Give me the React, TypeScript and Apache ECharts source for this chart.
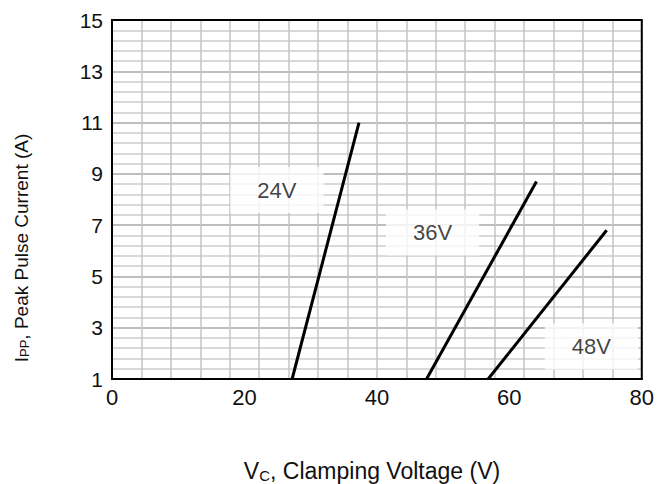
import React, { useEffect, useRef } from "react";
import * as echarts from "echarts";

// Tick labels / axis ranges
const xTicks = [0, 20, 40, 60, 80];
const yTicks = [1, 3, 5, 7, 9, 11, 13, 15];

// Curves: [Vc (V), Ipp (A)]
const line24: [number, number][] = [[27.2, 1], [37.3, 11]];
const line36: [number, number][] = [[47.5, 1], [64.1, 8.7]];
const line48: [number, number][] = [[56.8, 1], [74.7, 6.8]];

// Curve labels: name and anchor in data coordinates
const labelNames = ["24V", "36V", "48V"];
const labelX = [24.9, 48.4, 72.4];
const labelY = [8.37, 6.71, 2.27];

const FONT = "'Liberation Sans', Arial, sans-serif";

export default function App() {
  const ref = useRef<HTMLDivElement>(null);
  useEffect(() => {
    if (!ref.current) return;
    const chart = echarts.init(ref.current, undefined, { renderer: "svg" });
    const lineStyle = { color: "#000", width: 3 };
    chart.setOption({
      animation: false,
      backgroundColor: "#fff",
      grid: {
        left: 112,
        top: 20,
        right: 15,
        bottom: 105,
        show: true,
        borderColor: "#000",
        borderWidth: 2,
        backgroundColor: "transparent",
        z: 10,
      },
      xAxis: [
        {
          type: "value",
          min: xTicks[0],
          max: xTicks[xTicks.length - 1],
          interval: 20,
          axisLine: { show: true, onZero: false, lineStyle: { color: "#000", width: 2 } },
          axisTick: { show: false },
          splitLine: { show: false },
          axisLabel: { color: "#111", fontSize: 22, fontFamily: FONT, margin: 7 },
        },
        {
          type: "value",
          min: 0,
          max: 18,
          interval: 1,
          position: "top",
          axisLine: { show: false },
          axisTick: { show: false },
          axisLabel: { show: false },
          splitLine: { show: true, lineStyle: { color: "#c4c4c4", width: 1.5 } },
        },
      ],
      yAxis: {
        type: "value",
        min: yTicks[0],
        max: yTicks[yTicks.length - 1],
        interval: 2,
        axisLine: { show: true, onZero: false, lineStyle: { color: "#000", width: 2 } },
        axisTick: { show: false },
        axisLabel: { color: "#111", fontSize: 21, fontFamily: FONT, margin: 9 },
        splitLine: { show: true, lineStyle: { color: "#a8a8a8", width: 1.5 } },
        minorTick: { show: false, splitNumber: 5 },
        minorSplitLine: { show: true, lineStyle: { color: "#cccccc", width: 1.5 } },
      },
      series: [
        {
          type: "scatter",
          name: "labels",
          symbolSize: 1,
          itemStyle: { color: "#fff" },
          z: 5,
          data: labelNames.map((n, i) => ({ value: [labelX[i], labelY[i]], name: n })),
          label: {
            show: true,
            position: "inside",
            formatter: (p: any) => p.name,
            color: "#111",
            fontSize: 22,
            fontFamily: FONT,
            backgroundColor: "#fff",
            padding: [12, 27],
          },
        },
        { type: "line", name: "24V", data: line24, symbol: "none", lineStyle, z: 6 },
        { type: "line", name: "36V", data: line36, symbol: "none", lineStyle, z: 6 },
        { type: "line", name: "48V", data: line48, symbol: "none", lineStyle, z: 6 },
      ],
      graphic: [
        {
          type: "text",
          x: 372,
          y: 471,
          style: {
            text: "{m|V}{s|C}{m|, Clamping Voltage (V)}",
            align: "center",
            verticalAlign: "middle",
            fill: "#111",
            rich: {
              m: { fontSize: 23, fontFamily: FONT, fill: "#111" },
              s: { fontSize: 15, fontFamily: FONT, fill: "#111", verticalAlign: "bottom", padding: [8, 0, 0, 0] },
            },
          },
        },
        {
          type: "text",
          x: 21,
          y: 248,
          rotation: Math.PI / 2,
          style: {
            text: "{m|I}{s|PP}{m|, Peak Pulse Current (A)}",
            align: "center",
            verticalAlign: "middle",
            fill: "#111",
            rich: {
              m: { fontSize: 19, fontFamily: FONT, fill: "#111" },
              s: { fontSize: 13, fontFamily: FONT, fill: "#111", verticalAlign: "bottom", padding: [7, 0, 0, 0] },
            },
          },
        },
      ],
    });
    return () => chart.dispose();
  }, []);
  return (
    <div
      ref={ref}
      style={{ position: "fixed", left: 0, top: 0, width: 657, height: 484, background: "#fff" }}
    />
  );
}
